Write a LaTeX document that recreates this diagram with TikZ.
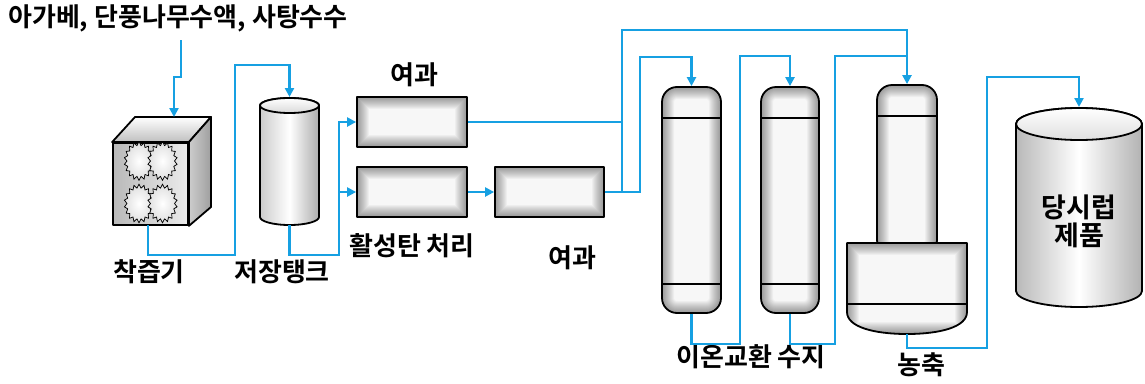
\documentclass[tikz,border=0pt]{standalone}
\usepackage{fontspec}
\newfontfamily\krfont{Noto Sans CJK KR}[BoldFont={Noto Sans CJK KR Bold}]
\usetikzlibrary{arrows.meta}
\definecolor{pipeblue}{RGB}{22,160,226}

\begin{document}
\begin{tikzpicture}[x=1pt,y=-1pt,
  pipe/.style={draw=pipeblue, line width=2.4pt, line join=miter},
  flow/.style={pipe, -{Triangle[length=9pt,width=9pt]}},
  outline/.style={draw=black, line width=1.8pt, line join=round},
  label/.style={font=\krfont\bfseries\fontsize{26}{29}\selectfont, inner sep=0pt},
  inshade/.style={fill=gray!6, path picture={
      \foreach \w in {1,...,12}{
        \draw[black, opacity=0.035, line width=2*\w pt]
          (path picture bounding box.south west) rectangle (path picture bounding box.north east);}}},
  unitbox/.style={outline, inshade, minimum width=110pt, minimum height=50pt, inner sep=0pt},
  column/.style={outline, inshade, rounded corners=15pt, minimum width=59pt, minimum height=226pt, inner sep=0pt},
  gear/.style={draw=black, line width=0.7pt, inner color=white, outer color=gray!25},
]
\fill[white] (0,0) rectangle (1145,383);
\useasboundingbox (0,0) rectangle (1145,383);

% ---- juicer (cube with gears) ----
\node[outline, minimum width=75pt, minimum height=82pt, inner sep=0pt,
      left color=gray!55, right color=gray!15] (crusher) at (150.5,184) {};
\filldraw[outline, top color=white, bottom color=gray!50]
  (crusher.north west) -- (135,117) -- (211,117) -- (crusher.north east) -- cycle;
\filldraw[outline, left color=gray!40, right color=gray!75]
  (crusher.north east) -- (211,117) -- (211,207) -- (crusher.south east) -- cycle;
\foreach \gx/\gy in {139/161, 162.5/161, 139/203.5, 162.5/203.5}{
  \filldraw[gear, shift={(\gx,\gy)}]
    plot[domain=0:35, samples=36, variable=\k]
      ({1.0*(12+2.8*mod(\k,2))*cos(\k*10)}, {1.3*(12+2.8*mod(\k,2))*sin(\k*10)}) -- cycle;
}
\coordinate (crusher-in) at (174,117);
\coordinate (crusher-out) at (148,225);

% ---- storage tank ----
\path[outline, left color=gray!40, right color=gray!65, middle color=white]
  (260,105.5) -- (260,217)
  arc[start angle=180, end angle=360, x radius=29.5pt, y radius=8pt]
  -- (319,105.5)
  arc[start angle=0, end angle=180, x radius=29.5pt, y radius=7.5pt] -- cycle;
\filldraw[outline, top color=white, bottom color=gray!30]
  (289.5,105.5) ellipse[x radius=29.5pt, y radius=7.5pt];
\coordinate (tank-in) at (289.5,97);
\coordinate (tank-out) at (289.5,225);

% ---- filters and activated carbon ----
\node[unitbox] (filtA) at (412,122) {};
\node[unitbox] (carbon) at (412,192) {};
\node[unitbox, minimum width=109pt] (filtB) at (549.5,192) {};

% ---- ion exchange columns ----
\node[column] (ix1) at (691.5,200) {};
\node[column, minimum width=58pt] (ix2) at (790,200) {};
\foreach \c in {ix1, ix2}{
  \draw[outline] (\c.west |- 0,118) -- (\c.east |- 0,118);
  \draw[outline] (\c.west |- 0,284) -- (\c.east |- 0,284);
}

% ---- concentrator ----
\node[column, minimum width=60pt, minimum height=170pt] (evap) at (907,170) {};
\draw[outline] (evap.west |- 0,116) -- (evap.east |- 0,116);
\path[outline, inshade]
  (847,243) -- (967,243) -- (967,312)
  .. controls (967,327) and (940,334) .. (907,334)
  .. controls (874,334) and (847,327) .. (847,312) -- cycle;
\draw[outline] (847,304) -- (967,304);
\coordinate (evap-out) at (907,334);

% ---- product tank ----
\path[outline, left color=gray!55, right color=gray!60, middle color=white]
  (1016,124) -- (1016,291)
  arc[start angle=180, end angle=360, x radius=63pt, y radius=16pt]
  -- (1142,124)
  arc[start angle=0, end angle=180, x radius=63pt, y radius=16pt] -- cycle;
\filldraw[outline, top color=white, bottom color=gray!25]
  (1079,124) ellipse[x radius=63pt, y radius=16pt];
\coordinate (prod-in) at (1079,107);
\node[label, align=center, font=\krfont\bfseries\fontsize{27}{28}\selectfont] (prod) at (1079,221) {당시럽\\제품};

% ---- labels ----
\node[label] (src) at (178,18) {아가베, 단풍나무수액, 사탕수수};
\node[label] (lblA) at (414,75) {여과};
\node[label] (lblC) at (412,246) {활성탄 처리};
\node[label] (lblB) at (572,258) {여과};
\node[label] (lblCr) at (149,272) {착즙기};
\node[label] (lblT) at (282,272) {저장탱크};
\node[label] (lblIX) at (751,357) {이온교환 수지};
\node[label] (lblE) at (921,365) {농축};
\coordinate (feed) at (181,40);

% ---- pipes ----
\draw[flow] (feed) -- (181,77) -- (174,77) -- (crusher-in);
\draw[flow] (crusher-out) -- (148,255) -- (235,255) -- (235,65) -- (289.5,65) -- (tank-in);
\draw[flow] (tank-out) -- (289.5,255) -- (339,255) -- (339,122) -- (filtA.west);
\draw[flow] (339,192) -- (carbon.west);
\draw[pipe] (filtA.east) -- (622,122);
\draw[flow] (carbon.east) -- (filtB.west);
\draw[flow] (filtB.east) -- (622,192) -- (622,30) -- (907,30) -- (evap.north);
\draw[flow] (622,192) -- (640,192) -- (640,57) -- (691.5,57) -- (ix1.north);
\draw[flow] (ix1.south) -- (691.5,344) -- (740,344) -- (740,56) -- (790,56) -- (ix2.north);
\draw[pipe] (ix2.south) -- (790,344) -- (835,344) -- (835,56) -- (907,56);
\draw[flow] (evap-out) -- (907,348) -- (987,348) -- (987,77) -- (1079,77) -- (prod-in);
\end{tikzpicture}
\end{document}
